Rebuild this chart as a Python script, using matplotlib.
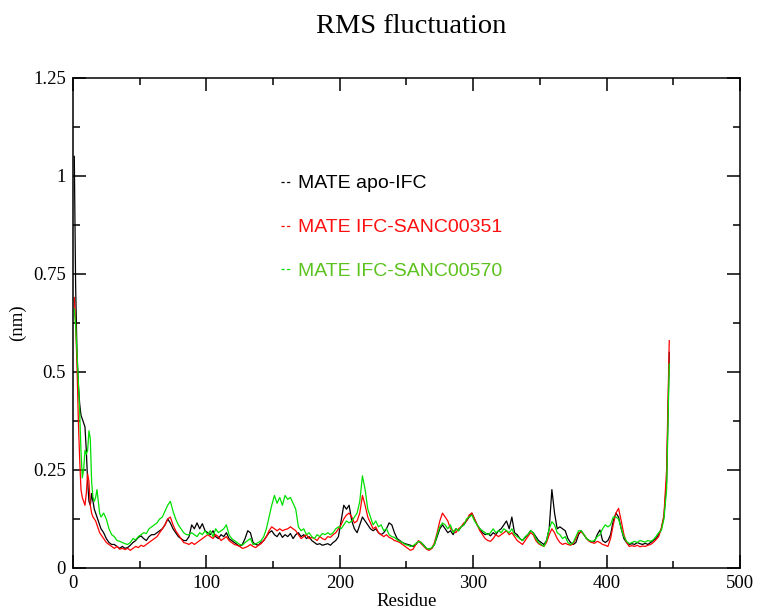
import matplotlib
matplotlib.use("Agg")
import matplotlib.pyplot as plt
from matplotlib.lines import Line2D
from matplotlib.ticker import MultipleLocator, FuncFormatter

# residue numbers: every residue up to 20, then every second one
residues = list(range(1, 21)) + list(range(21, 448, 2))

apo = [
    1.05, 0.72, 0.55, 0.47, 0.42, 0.39, 0.38, 0.37, 0.36, 0.30,
    0.22, 0.17, 0.16, 0.19, 0.17, 0.15, 0.14, 0.13, 0.12, 0.11,
    0.10, 0.09, 0.075, 0.065, 0.06, 0.06, 0.055, 0.05, 0.055, 0.05,
    0.052, 0.058, 0.065, 0.07, 0.078, 0.082, 0.075, 0.07, 0.08, 0.085,
    0.085, 0.09, 0.095, 0.1, 0.11, 0.125, 0.115, 0.1, 0.09, 0.08,
    0.075, 0.07, 0.07, 0.08, 0.11, 0.1, 0.115, 0.1, 0.113, 0.095,
    0.09, 0.085, 0.095, 0.08, 0.075, 0.085, 0.08, 0.09, 0.075, 0.07,
    0.065, 0.06, 0.055, 0.06, 0.075, 0.095, 0.09, 0.065, 0.06, 0.058,
    0.065, 0.07, 0.08, 0.09, 0.095, 0.085, 0.08, 0.09, 0.078, 0.085,
    0.08, 0.088, 0.075, 0.085, 0.09, 0.08, 0.085, 0.075, 0.08, 0.07,
    0.065, 0.06, 0.062, 0.058, 0.06, 0.062, 0.058, 0.065, 0.07, 0.08,
    0.12, 0.16, 0.15, 0.16, 0.12, 0.1, 0.09, 0.11, 0.13, 0.12,
    0.11, 0.1, 0.095, 0.1, 0.09, 0.085, 0.09, 0.1, 0.115, 0.11,
    0.09, 0.075, 0.07, 0.065, 0.062, 0.06, 0.058, 0.055, 0.06, 0.068,
    0.065, 0.058, 0.05, 0.048, 0.05, 0.06, 0.08, 0.1, 0.11, 0.1,
    0.09, 0.095, 0.085, 0.1, 0.095, 0.105, 0.11, 0.12, 0.13, 0.14,
    0.125, 0.11, 0.1, 0.09, 0.085, 0.088, 0.082, 0.09, 0.085, 0.095,
    0.1, 0.11, 0.12, 0.1, 0.13, 0.09, 0.085, 0.075, 0.07, 0.078,
    0.085, 0.095, 0.09, 0.08, 0.07, 0.065, 0.06, 0.07, 0.1, 0.2,
    0.14, 0.1, 0.105, 0.1, 0.095, 0.075, 0.065, 0.06, 0.065, 0.085,
    0.095, 0.085, 0.075, 0.07, 0.065, 0.068, 0.085, 0.097, 0.07, 0.065,
    0.07, 0.085, 0.12, 0.14, 0.13, 0.1, 0.075, 0.065, 0.06, 0.062,
    0.06, 0.065, 0.062, 0.06, 0.063, 0.06, 0.065, 0.07, 0.075, 0.085,
    0.1, 0.13, 0.22, 0.55,
]

sanc351 = [
    0.69, 0.62, 0.52, 0.38, 0.28, 0.20, 0.18, 0.17, 0.16, 0.19,
    0.24, 0.22, 0.16, 0.14, 0.13, 0.125, 0.12, 0.11, 0.10, 0.09,
    0.085, 0.075, 0.065, 0.06, 0.055, 0.05, 0.055, 0.048, 0.05, 0.047,
    0.05, 0.045, 0.05, 0.055, 0.052, 0.058, 0.055, 0.06, 0.065, 0.07,
    0.075, 0.08, 0.09, 0.1, 0.11, 0.125, 0.13, 0.11, 0.095, 0.085,
    0.075, 0.065, 0.063, 0.06, 0.065, 0.06, 0.065, 0.07, 0.075, 0.08,
    0.085, 0.08, 0.075, 0.085, 0.08, 0.07, 0.075, 0.08, 0.07, 0.065,
    0.06, 0.058, 0.055, 0.05, 0.052, 0.055, 0.06, 0.055, 0.052, 0.058,
    0.062, 0.07, 0.08, 0.095, 0.105, 0.1, 0.095, 0.1, 0.095, 0.098,
    0.1, 0.105, 0.1, 0.095, 0.085, 0.075, 0.08, 0.085, 0.075, 0.078,
    0.075, 0.07, 0.08, 0.075, 0.072, 0.08, 0.078, 0.085, 0.09, 0.1,
    0.11, 0.125, 0.135, 0.14, 0.13, 0.115, 0.12, 0.14, 0.185, 0.16,
    0.13, 0.115, 0.1, 0.105, 0.09, 0.085, 0.08, 0.085, 0.078, 0.075,
    0.07, 0.068, 0.065, 0.06, 0.055, 0.05, 0.045, 0.048, 0.06, 0.07,
    0.062, 0.055, 0.048, 0.045, 0.05, 0.065, 0.09, 0.12, 0.14, 0.13,
    0.12, 0.1, 0.095, 0.09, 0.1, 0.105, 0.115, 0.12, 0.135, 0.14,
    0.125, 0.11, 0.095, 0.085, 0.075, 0.07, 0.068, 0.075, 0.085, 0.08,
    0.085, 0.09, 0.095, 0.085, 0.09, 0.08, 0.07, 0.065, 0.06, 0.07,
    0.08, 0.09, 0.085, 0.07, 0.062, 0.058, 0.055, 0.065, 0.085, 0.1,
    0.09, 0.075, 0.065, 0.06, 0.063, 0.06, 0.058, 0.062, 0.075, 0.09,
    0.092, 0.085, 0.075, 0.068, 0.065, 0.063, 0.068, 0.065, 0.06, 0.058,
    0.055, 0.075, 0.11, 0.14, 0.152, 0.12, 0.085, 0.065, 0.055, 0.057,
    0.055, 0.058, 0.054, 0.056, 0.055, 0.058, 0.06, 0.065, 0.072, 0.08,
    0.1, 0.135, 0.25, 0.58,
]

sanc570 = [
    0.66, 0.62, 0.55, 0.48, 0.40, 0.30, 0.23, 0.25, 0.30, 0.29,
    0.30, 0.35, 0.33, 0.22, 0.18, 0.17, 0.18, 0.20, 0.17, 0.14,
    0.13, 0.14, 0.125, 0.1, 0.085, 0.08, 0.07, 0.068, 0.065, 0.062,
    0.06, 0.065, 0.075, 0.072, 0.08, 0.085, 0.09, 0.088, 0.1, 0.105,
    0.11, 0.115, 0.125, 0.13, 0.145, 0.16, 0.17, 0.145, 0.125, 0.11,
    0.1, 0.09, 0.085, 0.085, 0.09, 0.085, 0.08, 0.09, 0.085, 0.095,
    0.085, 0.095, 0.08, 0.1, 0.09, 0.095, 0.1, 0.11, 0.085, 0.075,
    0.07, 0.065, 0.06, 0.058, 0.065, 0.07, 0.075, 0.06, 0.062, 0.065,
    0.07, 0.08, 0.1, 0.13, 0.16, 0.185, 0.165, 0.18, 0.16, 0.185,
    0.175, 0.18, 0.165, 0.15, 0.105, 0.095, 0.1, 0.085, 0.09, 0.08,
    0.075, 0.085, 0.08, 0.088, 0.085, 0.09, 0.085, 0.09, 0.1, 0.105,
    0.1, 0.11, 0.12, 0.115, 0.12, 0.13, 0.14, 0.17, 0.235, 0.2,
    0.15, 0.13, 0.11, 0.12, 0.105, 0.11, 0.095, 0.1, 0.085, 0.08,
    0.078, 0.072, 0.068, 0.065, 0.06, 0.058, 0.055, 0.057, 0.062, 0.068,
    0.065, 0.057, 0.05, 0.048, 0.052, 0.06, 0.085, 0.105, 0.115, 0.11,
    0.1, 0.11, 0.09, 0.1, 0.095, 0.105, 0.11, 0.125, 0.13, 0.135,
    0.12, 0.11, 0.1, 0.095, 0.09, 0.085, 0.09, 0.1, 0.09, 0.095,
    0.09, 0.1, 0.095, 0.09, 0.1, 0.085, 0.08, 0.075, 0.07, 0.08,
    0.085, 0.095, 0.09, 0.075, 0.065, 0.06, 0.055, 0.07, 0.1, 0.118,
    0.11, 0.09, 0.085, 0.075, 0.08, 0.065, 0.06, 0.065, 0.08, 0.095,
    0.095, 0.085, 0.075, 0.07, 0.068, 0.07, 0.08, 0.085, 0.1, 0.11,
    0.105, 0.11, 0.13, 0.13, 0.125, 0.1, 0.08, 0.068, 0.062, 0.065,
    0.068, 0.065, 0.07, 0.068, 0.066, 0.07, 0.068, 0.072, 0.08, 0.09,
    0.095, 0.125, 0.2, 0.52,
]

names = ["MATE apo-IFC", "MATE IFC-SANC00351", "MATE IFC-SANC00570"]
line_colors = ["black", "#ff0000", "#00e000"]
text_colors = ["black", "#ff1010", "#5cc21e"]

serif = "Liberation Serif"

fig = plt.figure(figsize=(7.68, 6.11), dpi=100)
ax = fig.add_axes([0.095, 0.0704, 0.8685, 0.802])

for vals, c in zip([apo, sanc351, sanc570], line_colors):
    ax.plot(residues, vals, color=c, lw=0.9)

ax.set_xlim(0, 500)
ax.set_ylim(0, 1.25)
ax.xaxis.set_major_locator(MultipleLocator(100))
ax.xaxis.set_minor_locator(MultipleLocator(50))
ax.yaxis.set_major_locator(MultipleLocator(0.25))
ax.yaxis.set_minor_locator(MultipleLocator(0.125))
ax.yaxis.set_major_formatter(FuncFormatter(lambda v, p: "%g" % v))
ax.tick_params(which="both", direction="in", top=True, right=True, width=1.1)
ax.tick_params(which="major", length=9.5, labelsize=13.5, pad=5)
ax.tick_params(which="minor", length=5)
for lab in ax.get_xticklabels() + ax.get_yticklabels():
    lab.set_fontfamily(serif)
for sp in ax.spines.values():
    sp.set_linewidth(1.1)

ax.set_xlabel("Residue", fontfamily=serif, fontsize=13.5, labelpad=1)
ax.set_ylabel("(nm)", fontfamily=serif, fontsize=13.5, labelpad=5)
fig.text(0.536, 0.956, "RMS fluctuation", fontfamily=serif, fontsize=20.5,
         ha="center", va="center")

handles = [Line2D([], [], color=c, lw=0.9, ls=(0, (2.5, 2))) for c in line_colors]
leg = ax.legend(handles, names, loc="upper left", bbox_to_anchor=(0.285, 0.838),
                frameon=False, handlelength=0.6, handletextpad=0.3,
                labelspacing=1.35, prop={"family": "Liberation Sans", "size": 14})
for t, c in zip(leg.get_texts(), text_colors):
    t.set_color(c)

fig.savefig("out.png", dpi=100)
